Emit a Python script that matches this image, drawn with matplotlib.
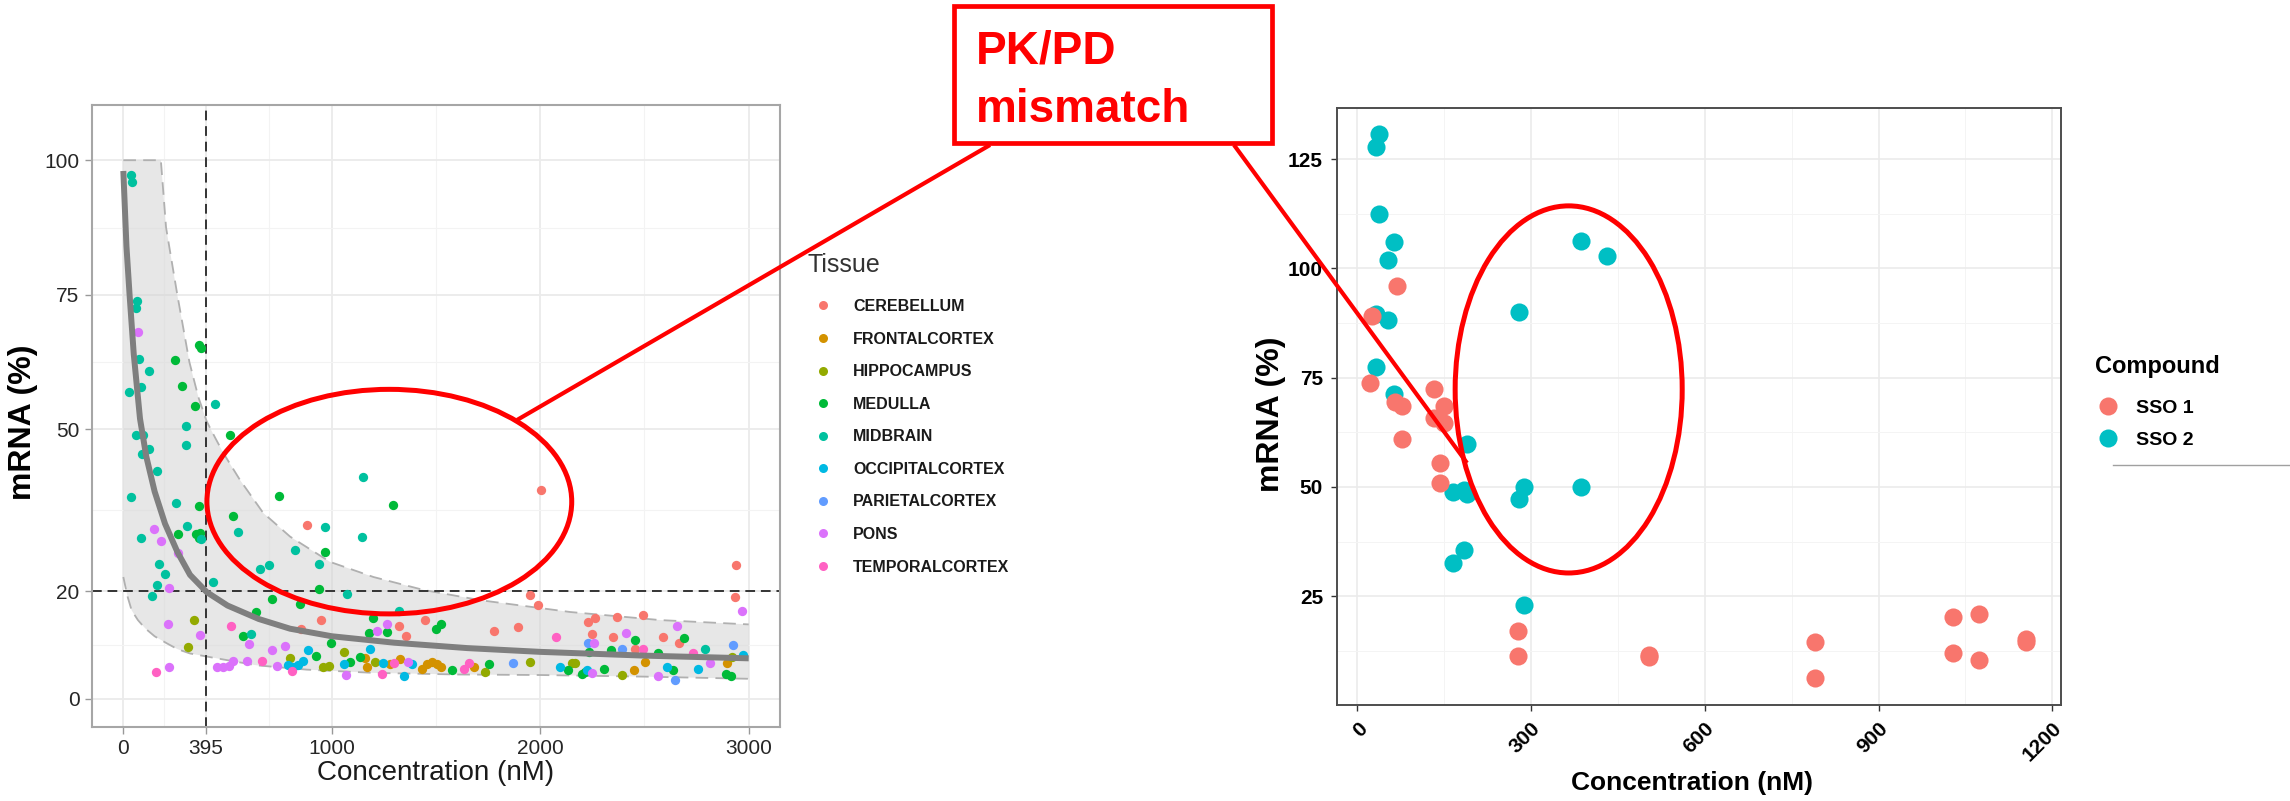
import numpy as np
import matplotlib.pyplot as plt
from matplotlib.lines import Line2D
from matplotlib.patches import Ellipse, Rectangle

plt.rcParams['font.family'] = ['Liberation Sans', 'DejaVu Sans']

# ---- tissue exposure / knockdown, (concentration nM, mRNA %) ----
CEREBELLUM = [(883, 32.3), (949, 14.7), (851, 12.9), (2003, 38.7), (1951, 19.2), (1991, 17.4),
              (1448, 14.7), (1323, 13.5), (1355, 11.7), (1776, 12.6), (1891, 13.4), (2939, 24.8),
              (2932, 18.8), (2227, 14.3), (2263, 14.9), (2370, 15.2), (2492, 15.5), (2248, 12.0),
              (2348, 11.4), (2591, 11.5), (2667, 10.3), (2455, 9.2)]
FRONTALCORTEX = [(1160, 7.5), (1168, 5.9), (1280, 6.4), (1328, 7.3), (1432, 5.6), (1456, 6.4),
                 (1480, 6.9), (1504, 6.4), (1523, 5.9), (1683, 5.9), (2451, 5.3), (2504, 6.9),
                 (2895, 6.6)]
HIPPOCAMPUS = [(341, 14.6), (309, 9.6), (1059, 8.6), (800, 7.5), (960, 5.9), (988, 6.1),
               (1208, 6.9), (1736, 5.0), (1952, 6.9), (2152, 6.6), (2168, 6.7), (2392, 4.4),
               (2919, 7.8)]
MEDULLA = [(365, 65.6), (375, 65.2), (246, 62.9), (282, 58.0), (345, 54.4), (512, 48.9),
           (362, 35.8), (525, 33.9), (745, 37.7), (264, 30.6), (350, 30.5), (370, 30.8),
           (365, 29.9), (969, 27.3), (937, 20.3), (712, 18.6), (848, 17.5), (637, 16.1),
           (573, 11.6), (995, 10.4), (925, 7.9), (1296, 35.9), (1200, 15.0), (1500, 12.9),
           (1525, 13.8), (1179, 12.2), (1267, 12.4), (1088, 6.9), (1136, 7.8), (1576, 5.3),
           (1756, 6.4), (2131, 5.4), (2690, 11.2), (2455, 10.9), (2338, 9.0), (2236, 8.7),
           (2567, 8.5), (2639, 5.3), (2307, 5.6), (2200, 4.6), (2216, 5.0), (2892, 4.6),
           (2914, 4.2)]
MIDBRAIN = [(35, 97.2), (40, 96.0), (64, 73.8), (59, 72.6), (77, 63.0), (125, 60.8), (85, 57.9),
            (27, 56.9), (438, 54.7), (301, 50.7), (60, 49.0), (96, 49.0), (88, 45.5), (125, 46.3),
            (301, 47.1), (160, 42.3), (37, 37.4), (251, 36.4), (552, 31.0), (86, 29.9),
            (304, 32.0), (375, 29.6), (968, 31.8), (824, 27.7), (656, 24.1), (699, 24.9),
            (937, 25.1), (170, 25.0), (200, 23.1), (160, 21.2), (138, 19.0), (432, 21.7),
            (1072, 19.4), (611, 12.1), (1149, 41.1), (1147, 30.1), (1324, 16.3), (2791, 9.2)]
OCCIPITALCORTEX = [(792, 6.2), (816, 5.9), (840, 6.2), (864, 7.0), (888, 9.0), (1059, 6.5),
                   (1184, 9.2), (1248, 6.6), (1347, 4.3), (1384, 6.4), (2096, 5.9), (2972, 8.1),
                   (2759, 5.6), (2610, 5.9), (2224, 5.4)]
PARIETALCORTEX = [(1868, 6.6), (2231, 10.4), (2392, 9.2), (2927, 10.0), (2647, 3.5)]
PONS = [(69, 68.1), (149, 31.6), (181, 29.3), (264, 27.1), (221, 20.6), (213, 13.9), (368, 11.8),
        (605, 10.1), (712, 9.0), (776, 9.8), (219, 5.8), (448, 5.8), (480, 5.9), (509, 6.1),
        (528, 7.0), (592, 7.0), (736, 6.1), (1069, 4.4), (1264, 13.8), (1219, 12.6), (1368, 6.9),
        (2967, 16.3), (2412, 12.2), (2655, 13.5), (2259, 10.3), (2815, 6.7), (2564, 4.2),
        (2248, 4.7)]
TEMPORALCORTEX = [(515, 13.5), (157, 5.0), (664, 7.0), (808, 5.2), (1240, 4.6), (1300, 6.6),
                  (1632, 5.6), (1660, 6.6), (2076, 11.4), (2495, 9.2), (2732, 8.4)]

tissue_names = ['CEREBELLUM', 'FRONTALCORTEX', 'HIPPOCAMPUS', 'MEDULLA', 'MIDBRAIN',
                'OCCIPITALCORTEX', 'PARIETALCORTEX', 'PONS', 'TEMPORALCORTEX']
tissue_points = [CEREBELLUM, FRONTALCORTEX, HIPPOCAMPUS, MEDULLA, MIDBRAIN,
                 OCCIPITALCORTEX, PARIETALCORTEX, PONS, TEMPORALCORTEX]
tissue_colors = ['#F8766D', '#D39200', '#93AA00', '#00BA38', '#00C19F',
                 '#00B9E3', '#619CFF', '#DB72FB', '#FF61C3']

# fitted exposure-response curve and its band
fit_conc = [0, 15, 30, 50, 80, 110, 150, 200, 260, 320, 400, 500, 650, 800, 1000, 1300, 1650,
            2000, 2500, 3000]
fit_mrna = [98, 84, 75, 64, 52, 45, 38.5, 32.5, 27.2, 23, 19.8, 17.3, 14.8, 13.0, 11.6, 10.4,
            9.4, 8.7, 8.0, 7.5]
band_hi_conc = [0, 180, 205, 259, 317, 360, 400, 440, 480, 560, 671, 800, 992, 1200, 1440, 1712,
                2144, 2576, 3000]
band_hi_mrna = [100, 100, 87.5, 75, 62.5, 56, 51.5, 48.5, 45.6, 40.6, 34.5, 30.1, 25.4, 22.6,
                20.2, 18.3, 16.1, 14.6, 13.8]
band_lo_conc = [0, 20, 40, 70, 104, 150, 208, 260, 320, 448, 640, 880, 1200, 1600, 2000, 2500,
                3000]
band_lo_mrna = [22.6, 19, 16.4, 14.6, 13.1, 11.6, 10.3, 9.2, 8.4, 7.5, 6.2, 5.4, 4.8, 4.5, 4.4,
                4.1, 3.7]
target_conc = 395
target_mrna = 20

# ---- compound comparison ----
sso1_conc = [68, 25, 22, 66, 77, 77, 132, 150, 132, 150, 143, 143, 277, 277, 504, 504, 790, 790,
             1029, 1029, 1073, 1073, 1155, 1155]
sso1_mrna = [96.0, 89.1, 73.8, 69.5, 68.4, 60.9, 72.3, 68.4, 65.7, 64.7, 55.5, 50.9, 17.0, 11.4,
             11.6, 11.0, 14.5, 6.2, 20.3, 11.9, 20.8, 10.3, 15.2, 14.4]
sso2_conc = [37, 33, 37, 63, 53, 53, 33, 33, 63, 279, 387, 431, 189, 165, 185, 189, 279, 288, 387,
             185, 165, 288]
sso2_mrna = [130.7, 127.7, 112.4, 106.1, 101.9, 88.1, 89.5, 77.4, 71.3, 90.0, 106.2, 102.9, 59.8,
             48.9, 49.2, 48.3, 47.3, 49.9, 49.9, 35.6, 32.5, 22.9]

W, H = 2290, 801
fig = plt.figure(figsize=(W / 100, H / 100), dpi=100)

# ---------------- left panel ----------------
ax1 = fig.add_axes([0.0402, 0.0924, 0.3004, 0.7765])
ax1.set_xlim(-150, 3150)
ax1.set_ylim(-5.25, 110.25)
ax1.set_xticks([0, 395, 1000, 2000, 3000])
ax1.set_yticks([0, 20, 50, 75, 100])
ax1.set_xticks([197.5, 697.5, 1500, 2500], minor=True)
ax1.set_yticks([10, 35, 62.5, 87.5], minor=True)
ax1.grid(which='major', color='#EBEBEB', lw=1.3, zorder=0)
ax1.grid(which='minor', color='#F3F3F3', lw=0.8, zorder=0)
ax1.set_axisbelow(True)
for s in ax1.spines.values():
    s.set_color('#A6A6A6')
    s.set_linewidth(1.5)
ax1.tick_params(which='major', length=5, width=1, color='#999999', labelsize=15,
                labelcolor='#262626', pad=4)
ax1.tick_params(which='minor', length=0)

band_x = np.concatenate([band_hi_conc, band_lo_conc[::-1]])
band_y = np.concatenate([band_hi_mrna, band_lo_mrna[::-1]])
ax1.fill(band_x, band_y, color='#D4D4D4', alpha=0.55, lw=0, zorder=1)
ax1.plot(band_hi_conc, band_hi_mrna, color='#B0B0B0', lw=1.3, dashes=(7, 4), zorder=1.5)
ax1.plot(band_lo_conc, band_lo_mrna, color='#B0B0B0', lw=1.3, dashes=(7, 4), zorder=1.5)

ax1.axvline(target_conc, color='#333333', lw=1.4, dashes=(5, 3), zorder=2)
ax1.axhline(target_mrna, color='#333333', lw=1.4, dashes=(5, 3), zorder=2)

handles = []
for name, pts, col in zip(tissue_names, tissue_points, tissue_colors):
    xs = [p[0] for p in pts]
    ys = [p[1] for p in pts]
    ax1.scatter(xs, ys, s=45, color=col, lw=0, zorder=3)
    handles.append(Line2D([], [], ls='none', marker='o', ms=6.5, mfc=col, mec='none', label=name))

ax1.plot(fit_conc, fit_mrna, color='#7F7F7F', lw=4.3, solid_capstyle='butt', zorder=4)

ax1.add_patch(Ellipse((1276, 36.6), 1750, 41.7, fill=False, ec='#FF0000', lw=3.6,
                      zorder=6, clip_on=False))

ax1.set_xlabel('Concentration (nM)', fontsize=20, color='#1A1A1A')
ax1.xaxis.set_label_coords(0.5, -0.053)
ax1.set_ylabel('mRNA (%)', fontsize=23, fontweight='bold', color='black')
ax1.yaxis.set_label_coords(-0.0785, 0.49)

# tissue legend: title and entries placed separately
fig.text(808 / W, 1 - 265 / H, 'Tissue', fontsize=18, color='#333333', va='center', ha='left')
leg1 = fig.legend(handles=handles, loc='upper left', bbox_to_anchor=(807 / W, 1 - 299 / H),
                  frameon=False, prop={'size': 11.5, 'weight': 'bold'}, borderpad=0,
                  labelspacing=1.1, handlelength=2.0, handletextpad=0.875, borderaxespad=0)
for t in leg1.get_texts():
    t.set_color('#1A1A1A')

# ---------------- right panel ----------------
ax2 = fig.add_axes([1337 / W, 0.1199, 724 / W, 0.7453])
ax2.set_xlim(-35, 1215)
ax2.set_ylim(0.1, 136.7)
ax2.set_xticks([0, 300, 600, 900, 1200])
ax2.set_yticks([25, 50, 75, 100, 125])
ax2.set_xticks([150, 450, 750, 1050], minor=True)
ax2.set_yticks([12.5, 37.5, 62.5, 87.5, 112.5], minor=True)
ax2.grid(which='major', color='#EBEBEB', lw=1.2)
ax2.grid(which='minor', color='#F4F4F4', lw=0.7)
ax2.set_axisbelow(True)
for s in ax2.spines.values():
    s.set_color('#4D4D4D')
    s.set_linewidth(1.4)
ax2.tick_params(which='major', length=4, width=1, color='#333333', labelsize=15, pad=6)
ax2.tick_params(which='minor', length=0)
for lab in ax2.get_yticklabels() + ax2.get_xticklabels():
    lab.set_fontweight('bold')
plt.setp(ax2.get_xticklabels(), rotation=45, ha='right', va='top', rotation_mode='anchor')

ax2.scatter(sso2_conc, sso2_mrna, s=170, color='#00BFC4', lw=0, zorder=3)
ax2.scatter(sso1_conc, sso1_mrna, s=170, color='#F8766D', lw=0, zorder=3)

ax2.add_patch(Ellipse((365, 72.3), 392, 84, fill=False, ec='#FF0000', lw=3.6,
                      zorder=6, clip_on=False))

ax2.set_xlabel('Concentration (nM)', fontsize=19, fontweight='bold', color='black')
ax2.xaxis.set_label_coords(0.49, -0.11)
ax2.set_ylabel('mRNA (%)', fontsize=23, fontweight='bold', color='black')
ax2.yaxis.set_label_coords(-0.07, 0.487)

fig.text(2095 / W, 1 - 367 / H, 'Compound', fontsize=17, fontweight='bold', va='center',
         ha='left')
h2 = [Line2D([], [], ls='none', marker='o', ms=13, mfc='#F8766D', mec='none'),
      Line2D([], [], ls='none', marker='o', ms=13, mfc='#00BFC4', mec='none')]
leg2 = fig.legend(h2, ['SSO 1', 'SSO 2'], loc='upper left',
                  bbox_to_anchor=(2095 / W, 1 - 399 / H), frameon=False,
                  prop={'size': 14, 'weight': 'bold'}, borderpad=0, labelspacing=0.74,
                  handlelength=1.34, handletextpad=0.77, borderaxespad=0)

# ---------------- call-out overlay ----------------
ov = fig.add_axes([0, 0, 1, 1])
ov.set_xlim(0, W)
ov.set_ylim(H, 0)
ov.axis('off')
ov.patch.set_alpha(0)
ov.set_zorder(10)
ov.add_patch(Rectangle((954, 6), 318, 137, fill=False, ec='#FF0000', lw=3.4))
ov.text(976, 63, 'PK/PD', fontsize=33, fontweight='bold', color='#FF0000', va='baseline')
ov.text(976, 122, 'mismatch', fontsize=33, fontweight='bold', color='#FF0000', va='baseline')
ov.plot([990, 517], [145, 420], color='#FF0000', lw=3.0, solid_capstyle='butt')
ov.plot([1234, 1467], [145, 463], color='#FF0000', lw=3.0, solid_capstyle='butt')
ov.plot([2113, W], [465, 465], color='#A0A0A0', lw=1)

fig.savefig('out.png', dpi=100)
